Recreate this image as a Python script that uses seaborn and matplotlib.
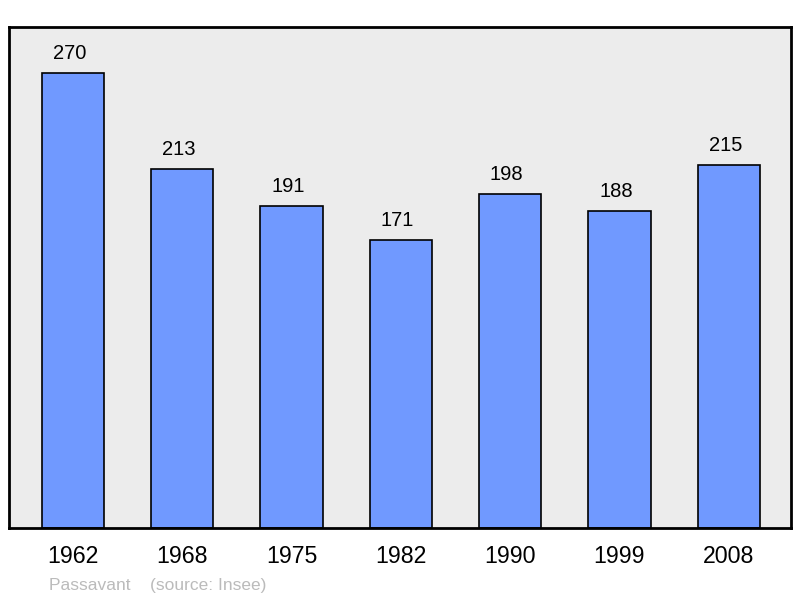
import matplotlib
matplotlib.use("Agg")
import matplotlib.pyplot as plt
import seaborn as sns
import pandas as pd

# Population data (Passavant, source: Insee)
years = ["1962", "1968", "1975", "1982", "1990", "1999", "2008"]
population = [270, 213, 191, 171, 198, 188, 215]

df = pd.DataFrame({"year": years, "population": population})

sns.set_style("white")
plt.rcParams["font.family"] = ["Liberation Sans", "DejaVu Sans"]

fig = plt.figure(figsize=(8, 5.98), dpi=100)
ax = fig.add_axes([0.01125, 0.117, 0.9775, 0.8378])
ax.set_facecolor("#ececec")

sns.barplot(data=df, x="year", y="population", color="#7099ff", saturation=1,
            width=0.57, edgecolor="black", linewidth=1.2, ax=ax)

for i, v in enumerate(population):
    ax.annotate(str(v), (i, v), xytext=(-2.5, 10), textcoords="offset points",
                ha="center", va="baseline", fontsize=14.5, color="black")

ax.set_xlim(-0.585, 6.57)
ax.set_ylim(0, 297)
ax.set_xlabel("")
ax.set_ylabel("")
ax.set_yticks([])
ax.tick_params(axis="x", length=0, pad=12, labelsize=16.7, labelcolor="black")
for s in ax.spines.values():
    s.set_visible(True)
    s.set_linewidth(2)
    s.set_color("black")

fig.text(0.061, 0.013, "Passavant    (source: Insee)", fontsize=12.5, color="#bbbbbb")

fig.savefig("out.png", dpi=100)
